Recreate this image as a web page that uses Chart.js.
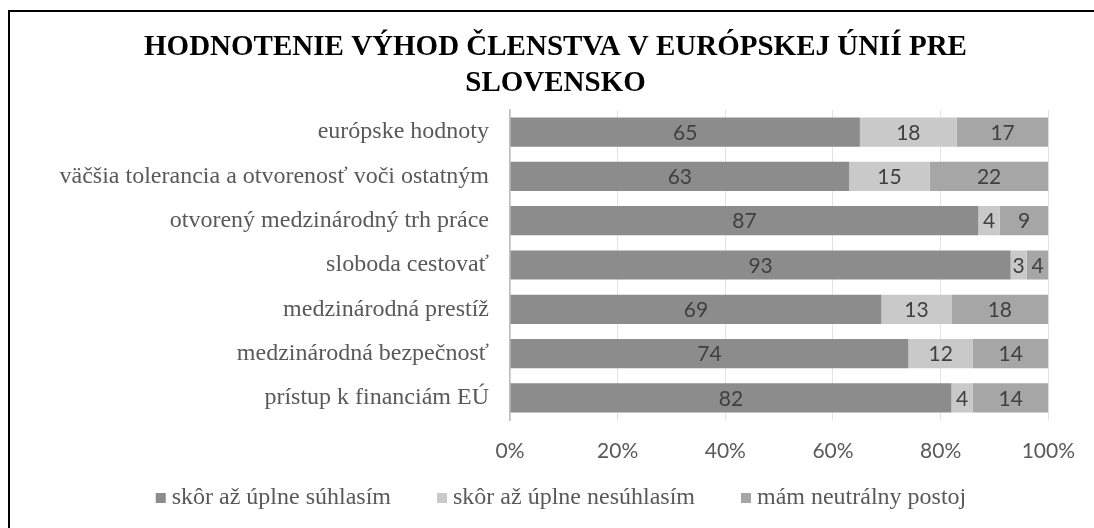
<!DOCTYPE html>
<html>
<head>
<meta charset="utf-8">
<script src="https://cdn.jsdelivr.net/npm/chart.js@4"></script>
<style>
  html, body { margin: 0; padding: 0; background: #ffffff; }
  body { width: 1094px; height: 528px; position: relative; overflow: hidden; }
  #frame { position: absolute; left: 8px; top: 10px; width: 1200px; height: 700px; border: 2px solid #000; box-sizing: border-box; }
  #wrap { position: absolute; left: 0; top: 0; width: 1094px; height: 528px; }
</style>
</head>
<body>
<div id="frame"></div>
<div id="wrap"><canvas id="c" width="1094" height="528"></canvas></div>
<script>
const titleLines = ["HODNOTENIE VÝHOD ČLENSTVA V EURÓPSKEJ ÚNIÍ PRE", "SLOVENSKO"];
const categories = [
  "európske hodnoty",
  "väčšia tolerancia a otvorenosť voči ostatným",
  "otvorený medzinárodný trh práce",
  "sloboda cestovať",
  "medzinárodná prestíž",
  "medzinárodná bezpečnosť",
  "prístup k financiám EÚ"
];
const seriesNames = ["skôr až úplne súhlasím", "skôr až úplne nesúhlasím", "mám neutrálny postoj"];
const agree = [65, 63, 87, 93, 69, 74, 82];
const disagree = [18, 15, 4, 3, 13, 12, 4];
const neutral = [17, 22, 9, 4, 18, 14, 14];
const xTicks = [0, 20, 40, 60, 80, 100];
const colors = ["#8c8c8c", "#c9c9c9", "#a6a6a6"];

// legend marker images: a 10x10 square placed near the right of a wider transparent canvas
function markerImage(color) {
  const cv = document.createElement('canvas');
  cv.width = 80; cv.height = 10;
  const g = cv.getContext('2d');
  g.fillStyle = color;
  g.fillRect(51, 0, 10, 10);
  return cv;
}
const markers = colors.map(markerImage);

const valueLabels = {
  id: 'valueLabels',
  afterDatasetsDraw(chart) {
    const ctx = chart.ctx;
    ctx.save();
    ctx.font = '21px Lato';
    ctx.fillStyle = '#404040';
    ctx.textAlign = 'center';
    ctx.textBaseline = 'middle';
    chart.data.datasets.forEach((ds, i) => {
      const meta = chart.getDatasetMeta(i);
      meta.data.forEach((bar, j) => {
        const p = bar.getProps(['x', 'y', 'base'], true);
        ctx.fillText(String(ds.data[j]), (p.x + p.base) / 2, p.y + 1);
      });
    });
    ctx.restore();
  }
};

const legendShift = {
  id: 'legendShift',
  afterLayout(chart) {
    const l = chart.legend;
    if (l) { l.left -= 7.5; l.right -= 7.5; }
  }
};

new Chart(document.getElementById('c'), {
  type: 'bar',
  data: {
    labels: categories,
    datasets: [
      { label: seriesNames[0], data: agree, backgroundColor: colors[0] },
      { label: seriesNames[1], data: disagree, backgroundColor: colors[1] },
      { label: seriesNames[2], data: neutral, backgroundColor: colors[2] }
    ]
  },
  options: {
    indexAxis: 'y',
    responsive: false,
    animation: false,
    devicePixelRatio: 1,
    layout: { padding: { left: 56, right: 39, top: 0, bottom: 8 } },
    datasets: { bar: { barPercentage: 0.66, categoryPercentage: 1, borderWidth: 0 } },
    scales: {
      x: {
        stacked: true,
        min: 0,
        max: 100,
        z: 1,
        afterBuildTicks: s => { s.ticks = xTicks.map(v => ({ value: v })); },
        ticks: {
          callback: v => v + '%',
          color: '#595959',
          font: { family: 'Lato', size: 21 },
          padding: 19,
          maxRotation: 0
        },
        grid: { color: 'rgba(100,100,100,0.18)', drawTicks: false, lineWidth: 1 },
        border: { display: false },
        afterFit: s => { s.height = 46; }
      },
      y: {
        stacked: true,
        ticks: {
          color: '#595959',
          font: { family: 'Liberation Serif', size: 24 },
          padding: 21
        },
        grid: { display: false, drawTicks: false },
        border: { display: true, color: '#bfbfbf', width: 1.5 },
        afterFit: s => { s.width = 454; }
      }
    },
    plugins: {
      title: {
        display: true,
        text: titleLines,
        color: '#000000',
        font: { family: 'Liberation Serif', size: 29, weight: 'bold', lineHeight: 36 / 29 },
        padding: { top: 30, bottom: 8 }
      },
      legend: {
        position: 'bottom',
        labels: {
          color: '#595959',
          font: { family: 'Liberation Serif', size: 24 },
          usePointStyle: true,
          pointStyleWidth: 30,
          boxHeight: 10,
          padding: 20,
          generateLabels: chart => {
            const items = Chart.defaults.plugins.legend.labels.generateLabels(chart);
            items.forEach((it, i) => { it.pointStyle = markers[i]; });
            return items;
          }
        }
      },
      tooltip: { enabled: false }
    }
  },
  plugins: [valueLabels, legendShift]
});
</script>
</body>
</html>
